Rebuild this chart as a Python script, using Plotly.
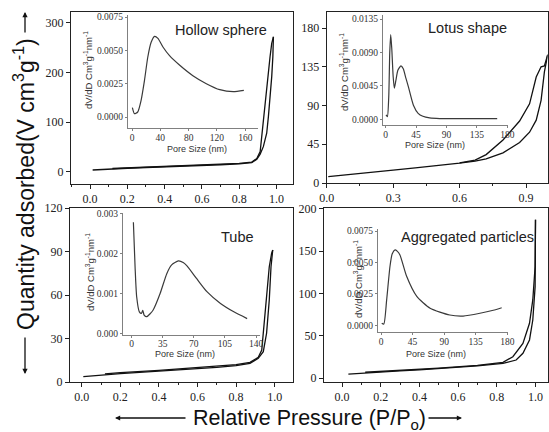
import plotly.graph_objects as go

W, H = 549, 432

# ---------------- data ----------------
# Hollow sphere isotherm
hs_ads_x = [0.014, 0.1, 0.2, 0.3, 0.4, 0.5, 0.6, 0.7, 0.8, 0.867, 0.894, 0.912, 0.929, 0.947, 0.956, 0.965, 0.974, 0.98, 0.983]
hs_ads_y = [4, 6, 7.5, 9, 10, 11.5, 13, 14.5, 16.5, 18.8, 25.5, 36, 51, 78, 111, 145, 192, 232, 272]
hs_des_x = [0.983, 0.974, 0.965, 0.956, 0.947, 0.938, 0.929, 0.921, 0.912, 0.894, 0.867, 0.8, 0.6, 0.4, 0.2, 0.12]
hs_des_y = [272, 259, 232, 199, 165, 125, 91, 64, 41, 27, 20, 17.5, 14, 11, 8.5, 7]
# Hollow sphere pore size distribution
hs_pore_x = [0.5, 3.3, 8, 12.8, 17.6, 22.3, 27, 31.8, 36.6, 43.7, 53, 67, 86, 105, 124, 143, 158]
hs_pore_y = [0.0007, 0.00025, 0.000375, 0.00125, 0.00275, 0.0045, 0.0056, 0.00605, 0.0059, 0.00525, 0.0046, 0.0039, 0.0031, 0.0025, 0.00205, 0.0019, 0.002]

# Lotus shape isotherm
lo_ads_x = [0.007, 0.1, 0.2, 0.3, 0.4, 0.5, 0.6, 0.67, 0.72, 0.796, 0.871, 0.916, 0.946, 0.968, 0.983, 0.998]
lo_ads_y = [7.3, 10, 12.5, 15, 17.5, 20, 23, 25.5, 28, 35, 47, 59, 73, 96, 129, 149]
lo_des_x = [0.998, 0.983, 0.968, 0.946, 0.916, 0.871, 0.796, 0.72, 0.67, 0.6]
lo_des_y = [149, 136, 135, 123, 92, 72, 50, 33, 26.5, 23.3]
# Lotus pore size distribution
lo_pore_x = [0.5, 2.5, 4.5, 6, 7.4, 9, 11, 12.8, 15, 18, 22.6, 26, 30, 33.5, 41, 48, 55, 65, 80, 100, 130, 165]
lo_pore_y = [0.0006, 0.00036, 0.003, 0.009, 0.0114, 0.0095, 0.0058, 0.0042, 0.0052, 0.0066, 0.0072, 0.0068, 0.0055, 0.0044, 0.0019, 0.0008, 0.0004, 0.00018, 0.0001, 0.0001, 0.0001, 0.0001]

# Tube isotherm
tu_ads_x = [0.008, 0.1, 0.2, 0.3, 0.4, 0.5, 0.6, 0.7, 0.8, 0.872, 0.915, 0.941, 0.958, 0.972, 0.981, 0.99]
tu_ads_y = [3.7, 4.8, 5.8, 6.6, 7.4, 8.2, 9.1, 10.1, 11.3, 12.9, 16.3, 20.9, 33.6, 56.6, 79.5, 91]
tu_des_x = [0.99, 0.984, 0.972, 0.958, 0.941, 0.933, 0.915, 0.872, 0.8, 0.6, 0.4, 0.2, 0.12]
tu_des_y = [91, 88.6, 79.5, 56.6, 33.6, 22, 17, 13.6, 12, 9.8, 8, 6.4, 5.6]
# Tube pore size distribution
tu_pore_x = [1.9, 3.8, 5.6, 8.6, 11, 12.4, 14, 17, 24, 32, 39.5, 45, 52.6, 58, 62, 73, 85, 100, 115, 130]
tu_pore_y = [0.00279, 0.00167, 0.00092, 0.00054, 0.0005, 0.00058, 0.00046, 0.00042, 0.00058, 0.001, 0.0015, 0.00172, 0.00182, 0.00178, 0.0017, 0.00138, 0.00104, 0.00075, 0.00054, 0.00037]

# Aggregated particles isotherm
ag_ads_x = [0.033, 0.1, 0.2, 0.3, 0.4, 0.5, 0.6, 0.7, 0.832, 0.9, 0.935, 0.969, 0.986, 0.998, 1.0]
ag_ads_y = [4.7, 5.8, 7.2, 8.5, 9.7, 11, 12.5, 14.3, 17.4, 21.3, 29.2, 45, 68.6, 108, 187]
ag_des_x = [1.0, 0.998, 0.986, 0.969, 0.935, 0.883, 0.832, 0.7, 0.5, 0.3, 0.12]
ag_des_y = [187, 131.7, 92.3, 64.7, 41, 25.2, 18.5, 15, 11.8, 9.2, 6.8]
# Aggregated particles pore size distribution
ag_pore_x = [1, 4, 8, 12.8, 16, 20, 23, 27, 36.5, 51, 70, 98, 117, 141, 160, 172]
ag_pore_y = [0.00016, 0.0001, 0.002, 0.0047, 0.0057, 0.006, 0.0059, 0.0056, 0.0039, 0.0023, 0.00136, 0.00082, 0.00074, 0.00096, 0.0012, 0.0014]

panel_titles = ["Hollow sphere", "Lotus shape", "Tube", "Aggregated particles"]

# ---------------- figure ----------------
fig = go.Figure()

def dom_x(a, b):
    return [a / W, b / W]

def dom_y(top, bottom):
    return [1 - bottom / H, 1 - top / H]

MAIN = dict(color="#111111", width=1.3)
INSET = dict(color="#3a3a3a", width=1.2)

main_sets = [
    (hs_ads_x, hs_ads_y, hs_des_x, hs_des_y, "x", "y"),
    (lo_ads_x, lo_ads_y, lo_des_x, lo_des_y, "x2", "y2"),
    (tu_ads_x, tu_ads_y, tu_des_x, tu_des_y, "x3", "y3"),
    (ag_ads_x, ag_ads_y, ag_des_x, ag_des_y, "x4", "y4"),
]
for ax_, ay_, dx_, dy_, xa, ya in main_sets:
    fig.add_trace(go.Scatter(x=ax_, y=ay_, mode="lines", line=MAIN, xaxis=xa, yaxis=ya, showlegend=False))
    fig.add_trace(go.Scatter(x=dx_, y=dy_, mode="lines", line=MAIN, xaxis=xa, yaxis=ya, showlegend=False))

inset_sets = [
    (hs_pore_x, hs_pore_y, "x5", "y5"),
    (lo_pore_x, lo_pore_y, "x6", "y6"),
    (tu_pore_x, tu_pore_y, "x7", "y7"),
    (ag_pore_x, ag_pore_y, "x8", "y8"),
]
for px_, py_, xa, ya in inset_sets:
    fig.add_trace(go.Scatter(x=px_, y=py_, mode="lines", line=dict(INSET, shape="spline", smoothing=0.6),
                             xaxis=xa, yaxis=ya, showlegend=False))

SERIF = "Liberation Serif, Times New Roman, serif"
SANS = "Liberation Sans, Arial, sans-serif"

main_common = dict(showline=True, linecolor="#222222", linewidth=1, mirror=True, ticks="outside",
                   ticklen=4, tickwidth=1, tickcolor="#222222", showgrid=False, zeroline=False,
                   automargin=False,
                   tickfont=dict(family=SERIF, size=12, color="#222222"))
inset_common = dict(showline=True, linecolor="#808080", linewidth=1, mirror=False, ticks="outside",
                    ticklen=2, tickwidth=1, tickcolor="#808080", showgrid=False, zeroline=False,
                    automargin=False,
                    tickfont=dict(family=SERIF, size=9.5, color="#333333"))

lay = {}
# main panels
lay["xaxis"] = dict(main_common, domain=dom_x(71, 293), range=[-0.102, 1.088], anchor="y",
                    tickvals=[0, 0.2, 0.4, 0.6, 0.8, 1.0], tickformat=".1f",
                    minor=dict(ticks="outside", ticklen=2, dtick=0.1, tick0=0, tickcolor="#222222"))
lay["yaxis"] = dict(main_common, domain=dom_y(12, 184), range=[-24.2, 322], anchor="x",
                    tickvals=[0, 100, 200, 300])
lay["xaxis2"] = dict(main_common, domain=dom_x(326.7, 547.5), range=[0, 0.997], anchor="y2",
                     tickvals=[0, 0.3, 0.6, 0.9], tickformat=".1f",
                     minor=dict(ticks="outside", ticklen=2, dtick=0.15, tick0=0, tickcolor="#222222"))
lay["yaxis2"] = dict(main_common, domain=dom_y(12, 183), range=[0, 198.6], anchor="x2",
                     tickvals=[0, 45, 90, 135, 180])
lay["xaxis3"] = dict(main_common, domain=dom_x(70, 293), range=[-0.061, 1.095], anchor="y3",
                     tickvals=[0, 0.2, 0.4, 0.6, 0.8, 1.0], tickformat=".1f",
                     minor=dict(ticks="outside", ticklen=2, dtick=0.1, tick0=0, tickcolor="#222222"))
lay["yaxis3"] = dict(main_common, domain=dom_y(208, 382), range=[0, 120], anchor="x3",
                     tickvals=[0, 30, 60, 90, 120])
lay["xaxis4"] = dict(main_common, domain=dom_x(324, 547.5), range=[-0.093, 1.062], anchor="y4",
                     tickvals=[0, 0.2, 0.4, 0.6, 0.8, 1.0], tickformat=".1f",
                     minor=dict(ticks="outside", ticklen=2, dtick=0.1, tick0=0, tickcolor="#222222"))
lay["yaxis4"] = dict(main_common, domain=dom_y(208, 382), range=[-4.7, 201], anchor="x4",
                     tickvals=[0, 50, 100, 150, 200])
# insets
lay["xaxis5"] = dict(inset_common, domain=dom_x(128, 258), range=[-5.7, 178], anchor="y5",
                     tickvals=[0, 40, 80, 120, 160], ticklabelstandoff=-1)
lay["yaxis5"] = dict(inset_common, domain=dom_y(15, 128), range=[-0.000825, 0.00765], anchor="x5",
                     tickvals=[0, 0.0025, 0.005, 0.0075], tickformat=".4f")
lay["xaxis6"] = dict(inset_common, domain=dom_x(383, 508), range=[-4, 181], anchor="y6",
                     tickvals=[0, 45, 90, 135, 180], ticklabelstandoff=-1)
lay["yaxis6"] = dict(inset_common, domain=dom_y(15, 125), range=[-0.00077, 0.01404], anchor="x6",
                     tickvals=[0, 0.0045, 0.009, 0.0135], tickformat=".4f")
lay["xaxis7"] = dict(inset_common, domain=dom_x(123, 260), range=[-9.8, 144.5], anchor="y7",
                     tickvals=[0, 35, 70, 105, 140], ticklabelstandoff=-2)
lay["yaxis7"] = dict(inset_common, domain=dom_y(213, 335), range=[-0.000042, 0.003025], anchor="x7",
                     tickvals=[0, 0.001, 0.002, 0.003], tickformat=".3f")
lay["xaxis8"] = dict(inset_common, domain=dom_x(378, 508), range=[-4.3, 181], anchor="y8",
                     tickvals=[0, 45, 90, 135, 180], ticklabelstandoff=-1)
lay["yaxis8"] = dict(inset_common, domain=dom_y(229, 332), range=[-0.00053, 0.00766], anchor="x8",
                     tickvals=[0, 0.0025, 0.005, 0.0075], tickformat=".4f")

def P(xp, yp):
    return xp / W, 1 - yp / H

annotations = []
# panel titles
for t, (xp, yp) in zip(panel_titles, [(221, 30), (468, 28), (237, 237), (467, 237)]):
    x, y = P(xp, yp)
    annotations.append(dict(text=t, x=x, y=y, xref="paper", yref="paper", showarrow=False,
                            xanchor="center", yanchor="middle",
                            font=dict(family=SANS, size=14.5, color="#222222")))
# inset x titles
for xp, yp in [(197, 149), (435, 145), (185, 354), (436, 354)]:
    x, y = P(xp, yp)
    annotations.append(dict(text="Pore Size (nm)", x=x, y=y, xref="paper", yref="paper", showarrow=False,
                            xanchor="center", yanchor="middle",
                            font=dict(family=SANS, size=9, color="#333333")))
# inset y titles
for xp, yp in [(88, 70), (344, 72), (90, 272), (358, 279)]:
    x, y = P(xp, yp)
    annotations.append(dict(text="dV/dD Cm<sup>3</sup>g<sup>-1</sup>nm<sup>-1</sup>", x=x, y=y,
                            xref="paper", yref="paper", showarrow=False, textangle=-90,
                            xanchor="center", yanchor="middle",
                            font=dict(family=SANS, size=9.5, color="#333333")))
# global axis titles
x, y = P(309, 419)
annotations.append(dict(text="Relative Pressure (P/P<sub>o</sub>)", x=x, y=y, xref="paper", yref="paper",
                        showarrow=False, xanchor="center", yanchor="middle",
                        font=dict(family=SANS, size=21.5, color="#111111")))
x, y = P(24, 184)
annotations.append(dict(text="Quantity adsorbed(V cm<sup>3</sup>g<sup>-1</sup>)", x=x, y=y,
                        xref="paper", yref="paper", showarrow=False, textangle=-90,
                        xanchor="center", yanchor="middle",
                        font=dict(family=SANS, size=23, color="#111111")))
# arrows (head position in paper coords, tail offset in pixels)
for (hx, hy, tx, ty) in [(115, 418, 187, 418), (462, 418, 427, 418), (25, 374, 25, 336), (25, 12, 25, 34)]:
    x, y = P(hx, hy)
    annotations.append(dict(text="", x=x, y=y, ax=tx - hx, ay=ty - hy, xref="paper", yref="paper",
                            axref="pixel", ayref="pixel", showarrow=True, arrowhead=2,
                            arrowsize=0.8, arrowwidth=1.3, arrowcolor="#111111"))

fig.update_layout(template="none", width=W, height=H, margin=dict(l=0, r=0, t=0, b=0, pad=0),
                  paper_bgcolor="white", plot_bgcolor="rgba(0,0,0,0)",
                  showlegend=False, annotations=annotations, **lay)

fig.write_html("out.html", config={"displayModeBar": False},
               post_script="document.body.style.margin='0px';")
